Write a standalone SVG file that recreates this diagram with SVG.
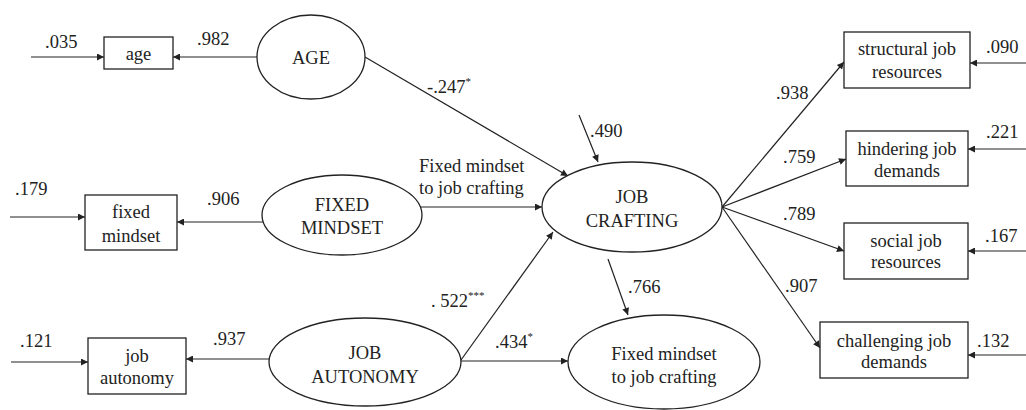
<svg xmlns="http://www.w3.org/2000/svg" width="1026" height="410" viewBox="0 0 1026 410">
<defs>
<marker id="ah" viewBox="0 0 10 10" refX="10" refY="5" markerWidth="9" markerHeight="7" markerUnits="userSpaceOnUse" orient="auto">
<path d="M0,0 L10,5 L0,10 z" fill="#222"/>
</marker>
<style>
text{font-family:"Liberation Serif","Times New Roman",serif;font-size:18.5px;fill:#222}
.c{text-anchor:middle}
.sup{font-size:11px}
.n rect,.n ellipse{fill:#fff;stroke:#222;stroke-width:1.3}
#connectors line{stroke:#222;stroke-width:1.2;marker-end:url(#ah)}
</style>
</defs>
<rect width="1026" height="410" fill="#fff"/>
<g id="connectors">
<line x1="31" y1="57" x2="104" y2="57"/>
<line x1="257" y1="57" x2="173" y2="57"/>
<line x1="365" y1="57" x2="568" y2="176"/>
<line x1="579" y1="115" x2="598" y2="162"/>
<line x1="420" y1="207" x2="542" y2="207"/>
<line x1="263" y1="222" x2="177" y2="222"/>
<line x1="10" y1="217" x2="85" y2="217"/>
<line x1="461" y1="360" x2="553" y2="232"/>
<line x1="461" y1="361" x2="568" y2="361"/>
<line x1="270" y1="359" x2="186" y2="359"/>
<line x1="11" y1="362" x2="88" y2="362"/>
<line x1="608" y1="259" x2="628" y2="315"/>
<line x1="722" y1="207" x2="844" y2="62"/>
<line x1="722" y1="207" x2="846" y2="159"/>
<line x1="722" y1="207" x2="844" y2="251"/>
<line x1="722" y1="207" x2="820" y2="348"/>
<line x1="1026" y1="63" x2="970" y2="63"/>
<line x1="1026" y1="149" x2="968" y2="149"/>
<line x1="1026" y1="251" x2="968" y2="251"/>
<line x1="1026" y1="355" x2="968" y2="355"/>
</g>
<g id="labels">
<text x="45" y="48">.035</text>
<text x="197" y="45">.982</text>
<text x="427" y="93">-.247<tspan class="sup" dy="-8">*</tspan></text>
<text x="590" y="137">.490</text>
<text x="15" y="195">.179</text>
<text x="207" y="205">.906</text>
<text x="419" y="172">Fixed mindset</text>
<text x="419" y="194">to job crafting</text>
<text x="431" y="307">. 522<tspan class="sup" dy="-8">***</tspan></text>
<text x="495" y="348">.434<tspan class="sup" dy="-8">*</tspan></text>
<text x="628" y="293">.766</text>
<text x="20" y="347">.121</text>
<text x="213" y="345">.937</text>
<text x="776" y="99">.938</text>
<text x="783" y="163">.759</text>
<text x="783" y="220">.789</text>
<text x="785" y="292">.907</text>
<text x="986" y="53">.090</text>
<text x="986" y="138">.221</text>
<text x="985" y="242">.167</text>
<text x="977" y="347">.132</text>
</g>
<g id="age" class="n"><rect x="104" y="37" width="69" height="32"/><text class="c" x="138.5" y="60">age</text></g>
<g id="fixed-mindset" class="n"><rect x="85" y="195" width="92" height="55"/><text class="c" x="131" y="218">fixed</text><text class="c" x="131" y="242">mindset</text></g>
<g id="job-autonomy" class="n"><rect x="88" y="338" width="98" height="56"/><text class="c" x="137" y="362">job</text><text class="c" x="137" y="384">autonomy</text></g>
<g id="AGE" class="n"><ellipse cx="311" cy="57" rx="54" ry="42"/><text class="c" x="311" y="64">AGE</text></g>
<g id="FIXED-MINDSET" class="n"><ellipse cx="342" cy="215" rx="80" ry="40"/><text class="c" x="342" y="211">FIXED</text><text class="c" x="342" y="234">MINDSET</text></g>
<g id="JOB-AUTONOMY" class="n"><ellipse cx="365" cy="362" rx="96" ry="44"/><text class="c" x="365" y="359">JOB</text><text class="c" x="365" y="383">AUTONOMY</text></g>
<g id="JOB-CRAFTING" class="n"><ellipse cx="632" cy="207" rx="90" ry="45"/><text class="c" x="632" y="203">JOB</text><text class="c" x="632" y="227">CRAFTING</text></g>
<g id="FMJC" class="n"><ellipse cx="664" cy="362" rx="96" ry="47"/><text class="c" x="664" y="360">Fixed mindset</text><text class="c" x="664" y="383">to job crafting</text></g>
<g id="structural" class="n"><rect x="844" y="32" width="126" height="56"/><text class="c" x="907" y="55">structural job</text><text class="c" x="907" y="78">resources</text></g>
<g id="hindering" class="n"><rect x="846" y="131" width="122" height="55"/><text class="c" x="907" y="155">hindering job</text><text class="c" x="907" y="177">demands</text></g>
<g id="social" class="n"><rect x="844" y="223" width="124" height="56"/><text class="c" x="906" y="247">social job</text><text class="c" x="906" y="268">resources</text></g>
<g id="challenging" class="n"><rect x="820" y="322" width="148" height="56"/><text class="c" x="894" y="347">challenging job</text><text class="c" x="894" y="368">demands</text></g>
</svg>
